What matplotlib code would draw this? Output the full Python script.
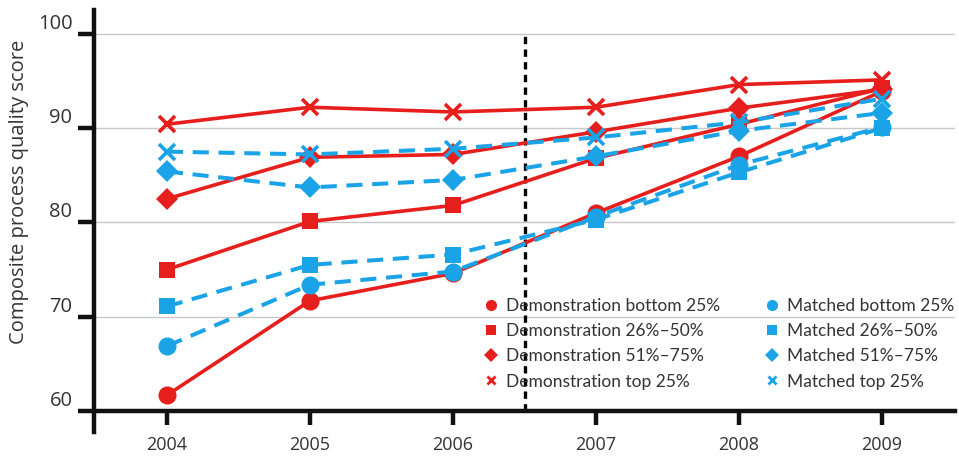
import matplotlib
matplotlib.use("Agg")
import matplotlib.pyplot as plt
from matplotlib.lines import Line2D

plt.rcParams['font.family'] = ['Open Sans', 'DejaVu Sans']

years = [2004, 2005, 2006, 2007, 2008, 2009]

# Demonstration hospitals (red, solid)
demo_bottom = [61.7, 71.7, 74.6, 81.0, 87.0, 93.9]
demo_26_50 = [75.0, 80.1, 81.8, 86.8, 90.4, 94.2]
demo_51_75 = [82.5, 86.9, 87.2, 89.6, 92.1, 94.1]
demo_top = [90.4, 92.2, 91.7, 92.2, 94.6, 95.1]

# Matched hospitals (blue, dashed)
match_bottom = [66.9, 73.4, 74.8, 80.6, 86.1, 90.1]
match_26_50 = [71.1, 75.5, 76.6, 80.3, 85.3, 90.0]
match_51_75 = [85.4, 83.7, 84.5, 87.0, 89.7, 91.6]
match_top = [87.5, 87.2, 87.8, 89.0, 90.6, 93.1]

labels_demo = ['Demonstration bottom 25%', 'Demonstration 26%–50%',
               'Demonstration 51%–75%', 'Demonstration top 25%']
labels_match = ['Matched bottom 25%', 'Matched 26%–50%',
                'Matched 51%–75%', 'Matched top 25%']

RED = '#e61e1c'
BLUE = '#1aa3e6'
TXT = '#333333'

markers = ['o', 's', 'D', 'x']
msizes = [13, 12, 11, 11]
legend_sizes = [8, 7.5, 7.5, 6]

fig = plt.figure(figsize=(9.59, 4.58), dpi=100)
ax = fig.add_axes([94 / 959, 26 / 458, 861 / 959, 422 / 458])

ax.set_xlim(2003.49, 2009.51)
ax.set_ylim(57.8, 102.5)

for yv in [70, 80, 90, 100]:
    ax.axhline(yv, color='#c8c8c8', lw=1, zorder=0)

ax.plot([2006.5, 2006.5], [60, 100], color='black', lw=2.4,
        linestyle=(0, (2.2, 1.6)), zorder=1)

demo = [demo_bottom, demo_26_50, demo_51_75, demo_top]
match = [match_bottom, match_26_50, match_51_75, match_top]

for vals, m, ms in zip(demo, markers, msizes):
    ax.plot(years, vals, color=RED, lw=2.6, marker=m, markersize=ms,
            markeredgewidth=2.6 if m == 'x' else 0, zorder=3)
for vals, m, ms in zip(match, markers, msizes):
    ax.plot(years, vals, color=BLUE, lw=2.9, linestyle=(0, (4.0, 2.4)),
            marker=m, markersize=ms, markeredgewidth=2.6 if m == 'x' else 0,
            zorder=4)

handles = []
for m, ms in zip(markers, legend_sizes):
    handles.append(Line2D([], [], color=RED, linestyle='none', marker=m,
                          markersize=ms, markeredgewidth=2 if m == 'x' else 0))
for m, ms in zip(markers, legend_sizes):
    handles.append(Line2D([], [], color=BLUE, linestyle='none', marker=m,
                          markersize=ms, markeredgewidth=2 if m == 'x' else 0))

leg = ax.legend(handles, labels_demo + labels_match, ncol=2, frameon=False,
                loc='upper left', bbox_to_anchor=(0.445, 0.333),
                prop={'family': 'Lato', 'size': 12.5},
                handlelength=0.8, handletextpad=0.45,
                columnspacing=2.6, labelspacing=0.52, borderaxespad=0)
for t in leg.get_texts():
    t.set_color(TXT)

# spines
for s in ['top', 'right']:
    ax.spines[s].set_visible(False)
ax.spines['left'].set_linewidth(3.2)
ax.spines['bottom'].set_linewidth(3.2)
ax.spines['bottom'].set_position(('data', 60))
ax.spines['left'].set_color('#111111')
ax.spines['bottom'].set_color('#111111')

ax.set_xticks(years)
ax.set_xticklabels([str(y) for y in years])
ax.set_yticks([60, 70, 80, 90, 100])
ax.tick_params(axis='x', direction='out', length=10, width=3.2,
               color='#111111', labelsize=13, labelcolor=TXT, pad=8)
ax.tick_params(axis='y', direction='out', length=11.5, width=3.2,
               color='#111111', labelsize=14.5, labelcolor=TXT, pad=4)
for lab in ax.get_yticklabels():
    lab.set_va('bottom')

ax.set_ylabel('Composite process quality score', fontsize=14.5, color=TXT)
ax.yaxis.set_label_coords(-0.075, 0.569)

fig.savefig('out.png', dpi=100)
